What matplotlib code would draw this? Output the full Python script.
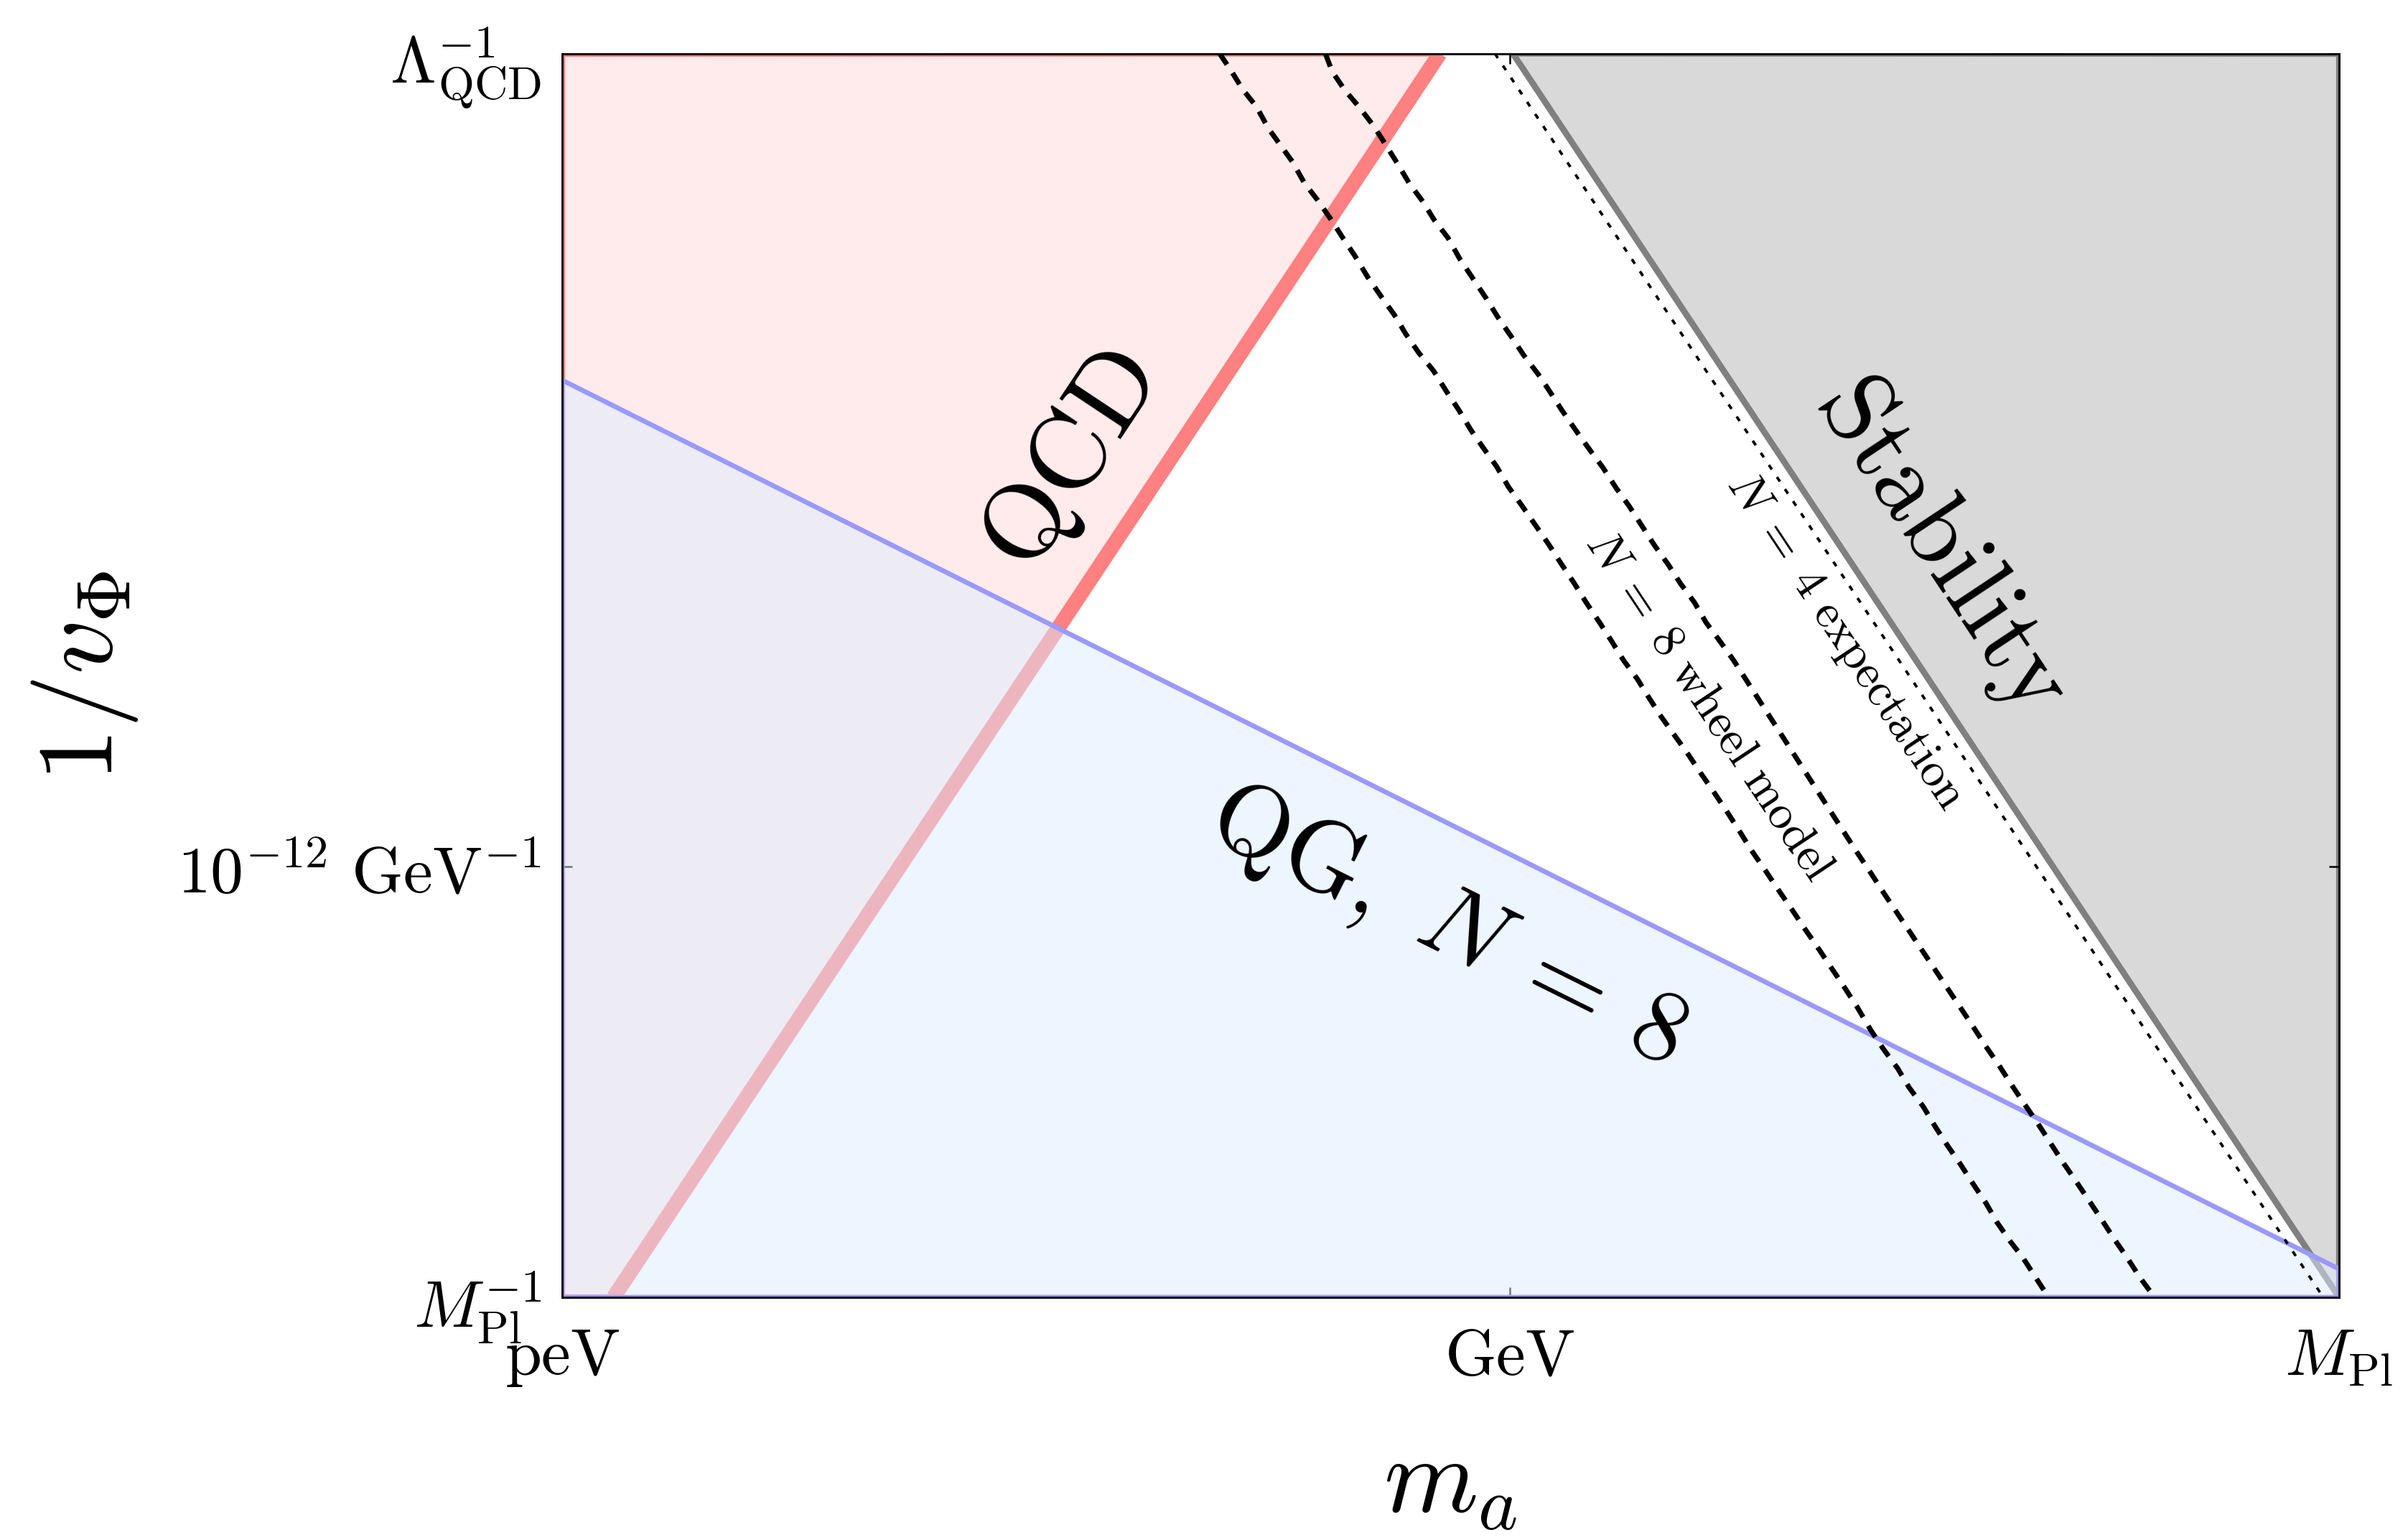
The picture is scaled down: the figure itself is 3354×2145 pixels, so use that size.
import numpy as np
import matplotlib
matplotlib.use("Agg")
import matplotlib.pyplot as plt

plt.rcParams["mathtext.fontset"] = "cm"
plt.rcParams["font.family"] = ["DejaVu Serif"]

# scales in GeV
M_PL = 2.4e18
LAMBDA_QCD = 0.9
M_MIN = 1e-21  # peV

# boundaries, stored as log10(m_a / GeV) and log10(1/v_Phi * GeV)
qcd_log_m = [-19.86, -1.55]
qcd_log_inv_v = [-18.38, 0.05]

qg_log_m = [-21.0, 18.38]
qg_log_inv_v = [-4.79, -17.96]

stab_log_m = [0.07, 18.38]
stab_log_inv_v = [0.05, -18.38]

n4_log_m = [-0.33, 18.03]
n4_log_inv_v = [0.05, -18.38]

# N = 8 wheel model, two curves
wheel1_log_m = [-6.43, -6.17, -5.91, -5.61, -5.35, -5.09, -4.82, -4.55, -4.26, -3.97,
                -3.70, -3.44, -3.15, -2.86, -2.56, -2.30, -2.01, -1.69, -1.40, -1.13,
                -0.86, -0.60, -0.29, -0.03, 0.27, 0.54, 0.85, 1.15, 1.42, 1.69,
                1.99, 2.26, 2.52, 2.83, 3.09, 3.36, 3.66, 3.93, 4.24, 4.51,
                4.81, 5.08, 5.36, 5.65, 5.94, 6.26, 6.54, 6.86, 7.15, 7.43,
                7.71, 8.00, 8.28, 8.60, 8.85, 9.17, 9.42, 9.70, 9.99, 10.27,
                10.55, 10.80, 11.09, 11.37, 11.65, 11.94]
wheel1_log_inv_v = [0.05, -0.21, -0.49, -0.74, -1.06, -1.30, -1.55, -1.87, -2.12, -2.40,
                    -2.68, -2.94, -3.26, -3.54, -3.82, -4.11, -4.39, -4.65, -4.96, -5.23,
                    -5.53, -5.78, -6.07, -6.37, -6.65, -6.91, -7.21, -7.52, -7.79, -8.08,
                    -8.38, -8.66, -8.94, -9.22, -9.50, -9.78, -10.06, -10.31, -10.62, -10.88,
                    -11.18, -11.46, -11.76, -12.04, -12.33, -12.64, -12.92, -13.23, -13.52, -13.80,
                    -14.09, -14.42, -14.70, -14.99, -15.27, -15.56, -15.84, -16.13, -16.41, -16.70,
                    -16.98, -17.27, -17.55, -17.79, -18.08, -18.38]

wheel2_log_m = [-4.08, -3.94, -3.66, -3.34, -3.02, -2.75, -2.48, -2.23, -1.93, -1.67,
                -1.37, -1.11, -0.81, -0.52, -0.26, 0.03, 0.32, 0.64, 0.85, 1.15,
                1.46, 1.76, 2.07, 2.37, 2.64, 2.94, 3.21, 3.51, 3.78, 4.09,
                4.35, 4.66, 4.96, 7.39, 7.71, 8.00, 8.28, 8.56, 8.85, 9.13,
                9.42, 9.70, 9.99, 10.27, 10.55, 10.84, 11.12, 11.40, 11.69, 11.97,
                12.25, 12.54, 12.83, 13.11, 13.39, 13.68, 13.96, 14.29]
wheel2_log_inv_v = [0.04, -0.21, -0.49, -0.74, -1.02, -1.30, -1.59, -1.87, -2.14, -2.42,
                    -2.68, -2.99, -3.29, -3.58, -3.86, -4.14, -4.43, -4.71, -4.92, -5.23,
                    -5.53, -5.81, -6.09, -6.40, -6.65, -6.96, -7.24, -7.52, -7.80, -8.08,
                    -8.38, -8.66, -8.94, -11.47, -11.80, -12.09, -12.38, -12.66, -12.95, -13.23,
                    -13.52, -13.80, -14.09, -14.37, -14.66, -14.94, -15.23, -15.51, -15.79, -16.08,
                    -16.37, -16.65, -16.94, -17.22, -17.51, -17.79, -18.08, -18.38]

RED_LINE = "#ff8080"
RED_FILL = "#ffebeb"
BLUE_LINE = "#9999ff"
BLUE_FILL = "#dcedff"
GREY_LINE = "#808080"
GREY_FILL = "#d9d9d9"


def pw(a):
    return 10.0 ** np.asarray(a)


xmin, xmax = M_MIN, M_PL
ymin, ymax = 1 / M_PL, 1 / LAMBDA_QCD

fig = plt.figure(figsize=(11.1833, 7.1533), dpi=300)
ax = fig.add_axes([0.2334, 0.1575, 0.7377, 0.8071])
ax.set_xscale("log")
ax.set_yscale("log")
ax.set_xlim(xmin, xmax)
ax.set_ylim(ymin, ymax)

# QCD excluded region (left of the QCD line)
qm, qv = pw(qcd_log_m), pw(qcd_log_inv_v)
ax.fill([xmin, qm[0], qm[1], xmin], [ymin, qv[0], qv[1], ymax],
        facecolor=RED_FILL, edgecolor=RED_LINE, lw=2, zorder=1)
ax.plot(qm, qv, color=RED_LINE, lw=5, solid_capstyle="butt", zorder=2)

# stability region
sm, sv = pw(stab_log_m), pw(stab_log_inv_v)
ax.fill([sm[0], xmax, sm[1]], [sv[0], ymax, sv[1]],
        facecolor=GREY_FILL, edgecolor=GREY_LINE, lw=2, zorder=1)
ax.plot(sm, sv, color=GREY_LINE, lw=2, zorder=2)

# quantum gravity bound, translucent on top
gm, gv = pw(qg_log_m), pw(qg_log_inv_v)
ax.fill([xmin, gm[0], gm[1], xmax], [ymin, gv[0], gv[1], ymin],
        facecolor=BLUE_FILL, alpha=0.5, edgecolor="none", zorder=3)
ax.fill([xmin, gm[0], gm[1], xmax], [ymin, gv[0], gv[1], ymin],
        facecolor="none", edgecolor=BLUE_LINE, lw=1.6, zorder=4)

# N = 4 expectation and N = 8 wheel model
ax.plot(pw(n4_log_m), pw(n4_log_inv_v), color="black", lw=0.9,
        dashes=(2.0, 3.4), zorder=5)
ax.plot(pw(wheel1_log_m), pw(wheel1_log_inv_v), color="black", lw=1.7,
        dashes=(2.6, 2.0), zorder=5)
ax.plot(pw(wheel2_log_m), pw(wheel2_log_inv_v), color="black", lw=1.7,
        dashes=(2.6, 2.0), zorder=5)

# region labels
txt = dict(ha="center", va="center", rotation_mode="anchor", zorder=6)
ax.text(10 ** -9.73, 10 ** -5.97, r"$\mathrm{QCD}$", fontsize=36, rotation=56.4, **txt)
ax.text(10 ** -1.38, 10 ** -12.85, r"$\mathrm{QG},\ N\:=\:8$", fontsize=34, rotation=-26.5, **txt)
ax.text(10 ** 9.61, 10 ** -7.23, r"$\mathrm{Stability}$", fontsize=34, rotation=-56.4, **txt)
ax.text(10 ** 7.46, 10 ** -8.65, r"$N\;=\;4\ \mathrm{expectation}$", fontsize=16, rotation=-56.4, **txt)
ax.text(10 ** 4.43, 10 ** -9.60, r"$N\;=\;8\ \mathrm{wheel\ model}$", fontsize=16, rotation=-56.4, **txt)

# ticks
ax.set_xticks([xmin, 1.0, xmax])
ax.set_xticklabels([r"$\mathrm{peV}$", r"$\mathrm{GeV}$", r"$M_{\mathrm{Pl}}$"])
ax.set_yticks([ymin, 1e-12, ymax])
ax.set_yticklabels([r"$M_{\mathrm{Pl}}^{-1}$", r"$10^{-12}\ \mathrm{GeV}^{-1}$",
                    r"$\Lambda_{\mathrm{QCD}}^{-1}$"])
ax.minorticks_off()
ax.tick_params(which="major", direction="in", length=3.4, width=0.6,
               labelsize=22, top=True, right=True)
ax.tick_params(axis="x", pad=9)
ax.tick_params(axis="y", pad=7)

for s in ax.spines.values():
    s.set_linewidth(0.7)
    s.set_zorder(10)

ax.set_xlabel(r"$m_a$", fontsize=36, va="center")
ax.xaxis.set_label_coords(0.5, -0.148)
ax.set_ylabel(r"$1/v_\Phi$", fontsize=36, va="center", ha="center")
ax.yaxis.set_label_coords(-0.2687, 0.5)

fig.savefig("out.png", dpi=300)
